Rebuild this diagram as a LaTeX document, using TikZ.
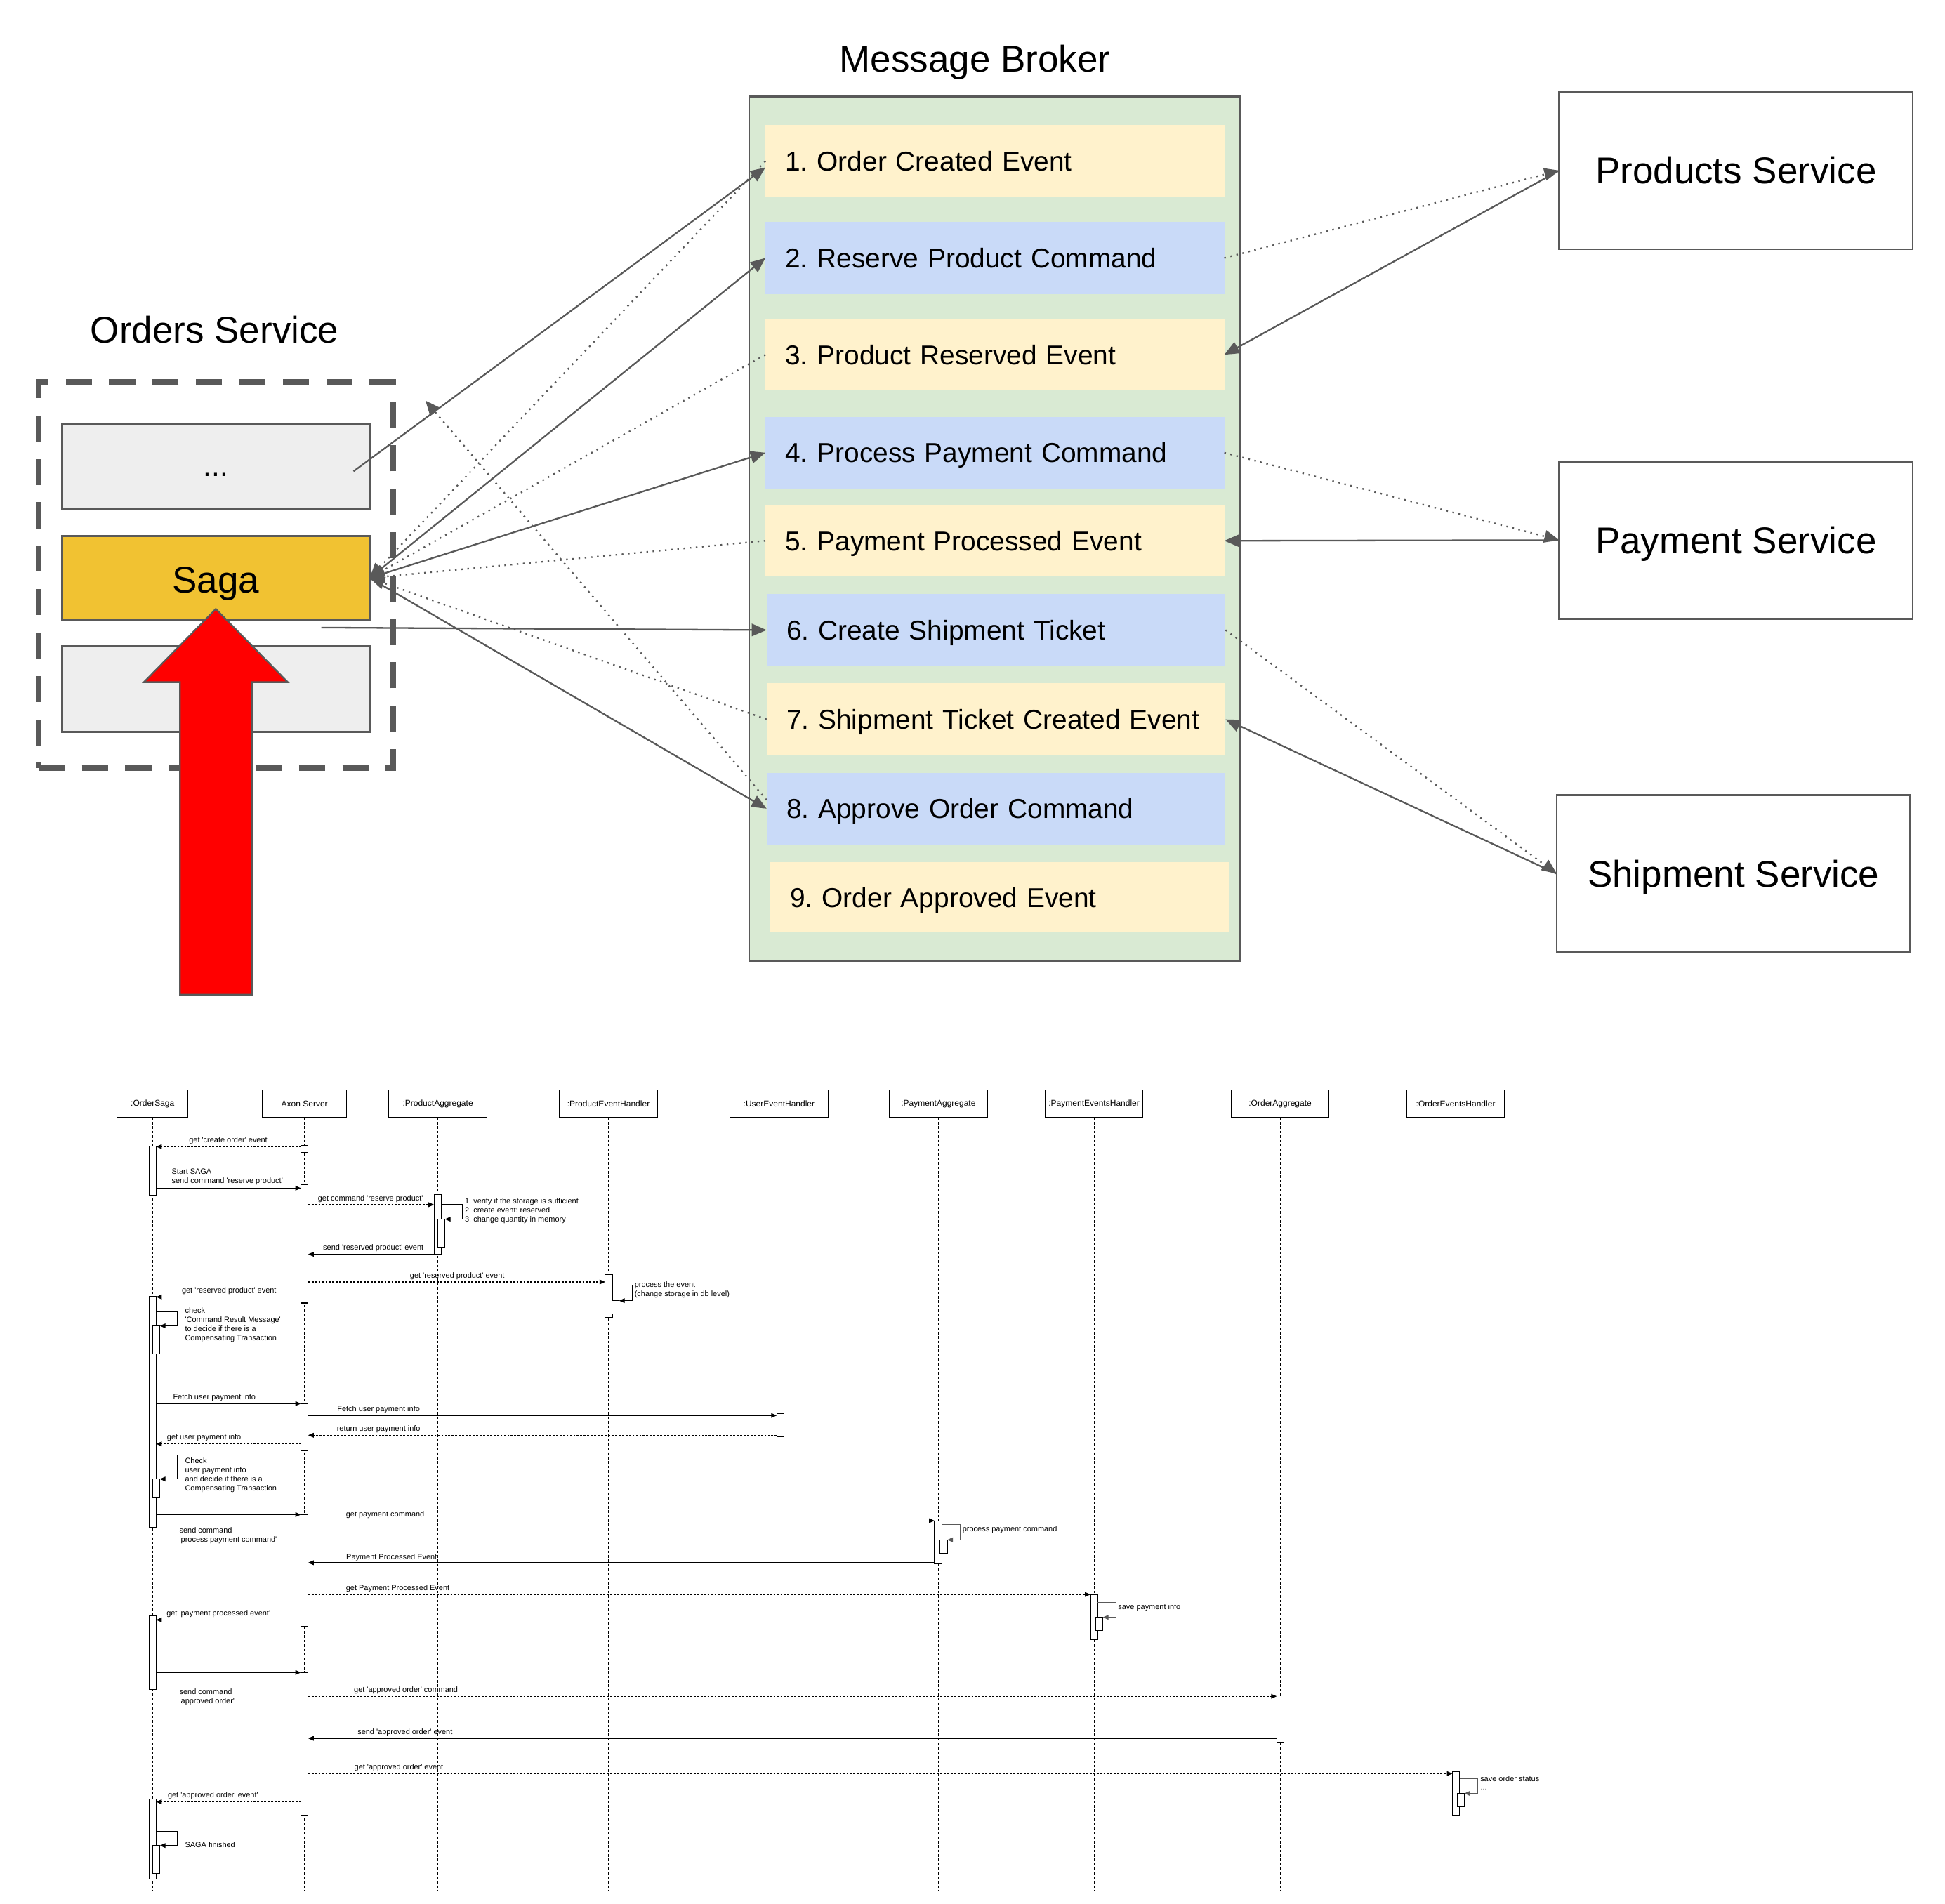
\documentclass[tikz,border=0pt]{standalone}
\usepackage{fontspec}
\setmainfont{Liberation Sans}
\newfontfamily\seqfont{Liberation Sans}[Ligatures=TeXOff]
\usetikzlibrary{arrows.meta}
\definecolor{edgegray}{HTML}{595959}
\definecolor{brokerfill}{HTML}{D9EAD3}
\definecolor{evfill}{HTML}{FFF2CC}
\definecolor{cmdfill}{HTML}{C9DAF8}
\definecolor{sagafill}{HTML}{F1C232}
\definecolor{boxgray}{HTML}{EEEEEE}
\frenchspacing
\begin{document}
\frenchspacing
\begin{tikzpicture}[x=1pt,y=-1pt,
  every node/.style={inner sep=0pt, outer sep=0pt},
  bigtxt/.style={font=\fontsize{30}{36}\selectfont, text height=21.5pt, text depth=0pt},
  box/.style={draw=edgegray, line width=1.5pt},
  item/.style={anchor=north west, minimum height=58pt, text width=338pt, inner xsep=16pt, align=left, text height=16pt, text depth=0pt, font=\fontsize{22}{26}\selectfont},
  conn/.style={draw=edgegray, line width=1.3pt, -{Triangle[length=12pt,width=10pt]}},
  dotconn/.style={conn, dash pattern=on 1.3pt off 3.7pt},
  lbl/.style={font=\seqfont\fontsize{6.2}{7.5}\selectfont},
  hdr/.style={font=\seqfont\fontsize{6.8}{8}\selectfont, draw=black, line width=0.6pt, fill=white, minimum height=22pt},
  act/.style={draw=black, line width=0.6pt, fill=white, minimum width=5.8pt},
  life/.style={draw=black, line width=0.5pt, dash pattern=on 2pt off 1.6pt},
  msg/.style={draw=black, line width=0.6pt, -{Triangle[length=4.5pt,width=3.8pt]}},
  rmsg/.style={msg, dash pattern=on 1.6pt off 1.2pt},
]
\useasboundingbox (0,0) rectangle (1568,1535);
\fill[white] (0,0) rectangle (1568,1535);

% ---------- Message broker ----------
\node[bigtxt] (mbtitle) at (786,47) {Message Broker};
\node[box, fill=brokerfill, anchor=north west, minimum width=396pt, minimum height=697pt] (broker) at (604,78) {};
\node[item, fill=evfill]  (i1) at (617,101) {1. Order Created Event};
\node[item, fill=cmdfill] (i2) at (617,179) {2. Reserve Product Command};
\node[item, fill=evfill]  (i3) at (617,257) {3. Product Reserved Event};
\node[item, fill=cmdfill] (i4) at (617,336) {4. Process Payment Command};
\node[item, fill=evfill]  (i5) at (617,407) {5. Payment Processed Event};
\node[item, fill=cmdfill] (i6) at (618,479) {6. Create Shipment Ticket};
\node[item, fill=evfill]  (i7) at (618,551) {7. Shipment Ticket Created Event};
\node[item, fill=cmdfill] (i8) at (618,623) {8. Approve Order Command};
\node[item, fill=evfill, minimum height=57pt]  (i9) at (621,695) {9. Order Approved Event};

% ---------- Orders service ----------
\node[bigtxt] (ostitle) at (173,266) {Orders Service};
\node[draw=edgegray, line width=4.5pt, dash pattern=on 21pt off 14pt, anchor=north west, minimum width=286pt, minimum height=311pt] (orders) at (31,308) {};
\node[box, fill=boxgray, anchor=north west, minimum width=248pt, minimum height=68pt] (dotsb) at (50,342) {};
\node[font=\fontsize{24}{28}\selectfont] (dotstxt) at (174,383) {...};
\node[box, fill=sagafill, anchor=north west, minimum width=248pt, minimum height=68pt] (saga) at (50,432) {};
\node[bigtxt] (sagatxt) at (174,467) {Saga};
\node[box, fill=boxgray, anchor=north west, minimum width=248pt, minimum height=69pt] (lowb) at (50,521) {};

% ---------- Services ----------
\node[box, fill=white, minimum width=285pt, minimum height=127pt, bigtxt] (prod) at (1399.5,137.5) {Products Service};
\node[box, fill=white, minimum width=285pt, minimum height=127pt, bigtxt] (pay) at (1399.5,435.5) {Payment Service};
\node[box, fill=white, minimum width=285pt, minimum height=127pt, bigtxt] (ship) at (1397.5,704.5) {Shipment Service};

% ---------- connectors (top) ----------
\coordinate (dotsstart) at (285,380);
\coordinate (sixstart) at (259,506);
\coordinate (upfree) at (343,323);
\draw[conn] (dotsstart) -- ([yshift=-5pt]i1.west);
\draw[dotconn] (i1.west) -- (saga.east);
\draw[conn] (saga.east) -- (i2.west);
\draw[dotconn] (i3.west) -- (saga.east);
\draw[conn] (saga.east) -- (i4.west);
\draw[dotconn] (i5.west) -- (saga.east);
\draw[conn] (sixstart) -- (i6.west);
\draw[dotconn] (i7.west) -- (saga.east);
\draw[conn] (saga.east) -- (i8.west);
\draw[dotconn] ([yshift=7pt]i8.west) -- (upfree);

\draw[dotconn] (i2.east) -- (prod.west);
\draw[conn] (prod.west) -- (i3.east);
\draw[dotconn] (i4.east) -- (pay.west);
\draw[conn] (pay.west) -- (i5.east);
\draw[dotconn] (i6.east) -- (ship.west);
\draw[conn] (ship.west) -- (i7.east);

% red block arrow
\draw[fill=red, draw=edgegray, line width=1.3pt] ([yshift=9pt]saga.south) -- ++(58,59) -- ++(-29,0) -- ++(0,252) -- ++(-58,0) -- ++(0,-252) -- ++(-29,0) -- cycle;

% ---------- Sequence diagram ----------
\node[hdr, minimum width=57pt] (h1) at (123,890) {:OrderSaga};
\node[hdr, minimum width=68pt] (h2) at (245.5,890) {Axon Server};
\node[hdr, minimum width=79pt] (h3) at (353,890) {:ProductAggregate};
\node[hdr, minimum width=79pt] (h4) at (490.5,890) {:ProductEventHandler};
\node[hdr, minimum width=79pt] (h5) at (628,890) {:UserEventHandler};
\node[hdr, minimum width=79pt] (h6) at (756.5,890) {:PaymentAggregate};
\node[hdr, minimum width=79pt] (h7) at (882,890) {:PaymentEventsHandler};
\node[hdr, minimum width=79pt] (h8) at (1032,890) {:OrderAggregate};
\node[hdr, minimum width=79pt] (h9) at (1173.5,890) {:OrderEventsHandler};
\foreach \h in {h1,h2,h3,h4,h5,h6,h7,h8,h9}
  \draw[life] (\h.south) -- (\h.south |- 0,1524);

% activations
\node[act, minimum height=39.5pt] (a1a) at (123,943.75) {};
\node[act, minimum height=186pt] (a1b) at (123,1138.5) {};
\node[act, minimum height=22.5pt] (n1) at (126,1080.25) {};
\node[act, minimum height=14.5pt] (n2) at (126,1199.75) {};
\node[act, minimum height=59pt] (a1c) at (123,1332.5) {};
\node[act, minimum height=64.6pt] (a1d) at (123,1482.7) {};
\node[act, minimum height=22.4pt] (n3) at (126,1499.2) {};
\node[act, minimum height=5.6pt] (a2a) at (245.5,926.4) {};
\node[act, minimum height=95.6pt] (a2b) at (245.5,1002.8) {};
\node[act, minimum height=38.1pt] (a2c) at (245.5,1150.75) {};
\node[act, minimum height=89.8pt] (a2d) at (245.5,1266.1) {};
\node[act, minimum height=115.3pt] (a2e) at (245.5,1406.15) {};
\node[act, minimum height=48.1pt] (pa) at (352.8,987.25) {};
\node[act, minimum height=22.7pt] (pan) at (355.8,994.35) {};
\node[act, minimum height=34.5pt] (peh) at (490.8,1044.75) {};
\node[act, minimum height=10.6pt] (pehn) at (496.2,1054) {};
\node[act, minimum height=18.8pt] (ueh) at (629.1,1149.1) {};
\node[act, minimum height=34.4pt] (paya) at (756.3,1243.6) {};
\node[act, minimum height=10.8pt] (payn) at (760.8,1246.9) {};
\node[act, minimum height=36pt] (pev) at (882,1303.9) {};
\node[act, minimum height=10.7pt] (pevn) at (886.2,1309.35) {};
\node[act, minimum height=35.6pt] (oa) at (1032.15,1386.7) {};
\node[act, minimum height=35.5pt] (oeh) at (1173.8,1446.05) {};
\node[act, minimum height=11pt] (oehn) at (1177.6,1451.5) {};

% messages
\draw[rmsg] (a2a.west |- 0,924.5) -- (a1a.east |- 0,924.5);
\node[lbl] (l1) at (184,919.4) {get 'create order' event};
\draw[msg] (a1a.east |- 0,958) -- (a2b.west |- 0,958);
\node[lbl, anchor=west, align=left] (l2) at (138.5,949) {Start SAGA\\send command 'reserve product'};
\draw[rmsg] (a2b.east |- 0,971.3) -- (pa.west |- 0,971.3);
\node[lbl] (l3) at (298.7,966.4) {get command 'reserve product'};
\draw[msg] (pa.east |- 0,971.3) -- (372.5,971.3) -- (372.5,983) -- (pan.east |- 0,983);
\node[lbl, anchor=west, align=left] (l4) at (374.8,976.2) {1. verify if the storage is sufficient\\2. create event: reserved\\3. change quantity in memory};
\draw[msg] (pa.west |- 0,1011.3) -- (a2b.east |- 0,1011.3);
\node[lbl] (l5) at (301,1006) {send 'reserved product' event};
\draw[rmsg] (a2b.east |- 0,1033.6) -- (peh.west |- 0,1033.6);
\node[lbl] (l6) at (368.6,1028.7) {get 'reserved product' event};
\draw[msg] (peh.east |- 0,1036.4) -- (509.7,1036.4) -- (509.7,1048.7) -- (pehn.east |- 0,1048.7);
\node[lbl, anchor=west, align=left] (l7) at (511.6,1040.1) {process the event\\(change storage in db level)};
\draw[rmsg] (a2b.west |- 0,1045.7) -- (a1b.east |- 0,1045.7);
\node[lbl] (l8) at (184.7,1040.6) {get 'reserved product' event};
\draw[msg] (a1b.east |- 0,1057.7) -- (142.7,1057.7) -- (142.7,1069) -- (n1.east |- 0,1069);
\node[lbl, anchor=west, align=left] (l9) at (149.2,1068.2) {check\\'Command Result Message'\\to decide if there is a\\Compensating Transaction};
\draw[msg] (a1b.east |- 0,1131.7) -- (a2c.west |- 0,1131.7);
\node[lbl] (l10) at (172.8,1126.6) {Fetch user payment info};
\draw[msg] (a2c.east |- 0,1141.3) -- (ueh.west |- 0,1141.3);
\node[lbl] (l11) at (305.2,1136.3) {Fetch user payment info};
\draw[rmsg] (ueh.west |- 0,1157.2) -- (a2c.east |- 0,1157.2);
\node[lbl] (l12) at (305.2,1152.1) {return user payment info};
\draw[rmsg] (a2c.west |- 0,1164.2) -- (a1b.east |- 0,1164.2);
\node[lbl] (l13) at (164.5,1159) {get user payment info};
\draw[msg] (a1b.east |- 0,1173.2) -- (142.7,1173.2) -- (142.7,1192.5) -- (n2.east |- 0,1192.5);
\node[lbl, anchor=west, align=left] (l14) at (149.2,1189.4) {Check\\user payment info\\and decide if there is a\\Compensating Transaction};
\draw[msg] (a1b.east |- 0,1221.2) -- (a2d.west |- 0,1221.2);
\node[lbl, anchor=west, align=left] (l15) at (144.7,1237.9) {send command\\'process payment command'};
\draw[rmsg] (a2d.east |- 0,1226.1) -- (paya.west |- 0,1226.1);
\node[lbl, anchor=west] (l16) at (279,1221.2) {get payment command};
\draw[msg, draw=black!65] (paya.east |- 0,1229.3) -- (774.1,1229.3) -- (774.1,1241.5) -- (payn.east |- 0,1241.5);
\node[lbl, anchor=west] (l17) at (776,1233.2) {process payment command};
\draw[msg] (paya.west |- 0,1260) -- (a2d.east |- 0,1260);
\node[lbl, anchor=west] (l18) at (279.2,1255.7) {Payment Processed Event};
\draw[rmsg] (a2d.east |- 0,1285.6) -- (pev.west |- 0,1285.6);
\node[lbl, anchor=west] (l19) at (279,1280.6) {get Payment Processed Event};
\draw[msg, draw=black!65] (pev.east |- 0,1292.1) -- (899.6,1292.1) -- (899.6,1304) -- (pevn.east |- 0,1304);
\node[lbl, anchor=west] (l20) at (901.4,1295.9) {save payment info};
\draw[rmsg] (a2d.west |- 0,1306.1) -- (a1c.east |- 0,1306.1);
\node[lbl, anchor=west] (l21) at (134.3,1301) {get 'payment processed event'};
\draw[msg] (a1c.east |- 0,1348.5) -- (a2e.west |- 0,1348.5);
\node[lbl, anchor=west, align=left] (l22) at (144.7,1368.2) {send command\\'approved order'};
\draw[rmsg] (a2e.east |- 0,1367.7) -- (oa.west |- 0,1367.7);
\node[lbl, anchor=west] (l23) at (285.4,1362.6) {get 'approved order' command};
\draw[msg] (oa.west |- 0,1401.6) -- (a2e.east |- 0,1401.6);
\node[lbl, anchor=west] (l24) at (288.3,1396.6) {send 'approved order' event};
\draw[rmsg] (a2e.east |- 0,1430) -- (oeh.west |- 0,1430);
\node[lbl, anchor=west] (l25) at (285.7,1424.9) {get 'approved order' event};
\draw[msg, draw=black!65] (oeh.east |- 0,1434.2) -- (1191.2,1434.2) -- (1191.2,1446) -- (oehn.east |- 0,1446);
\node[lbl, anchor=west] (l26) at (1193.4,1434) {save order status};
\node[lbl, anchor=west, text=black!45] (l27) at (1193.4,1442.8) {...};
\draw[rmsg] (a2e.west |- 0,1452.8) -- (a1d.east |- 0,1452.8);
\node[lbl, anchor=west] (l28) at (135.3,1447.5) {get 'approved order' event'};
\draw[msg] (a1d.east |- 0,1476.4) -- (142.7,1476.4) -- (142.7,1488) -- (n3.east |- 0,1488);
\node[lbl, anchor=west] (l29) at (149.2,1487.2) {SAGA finished};
\end{tikzpicture}
\end{document}
